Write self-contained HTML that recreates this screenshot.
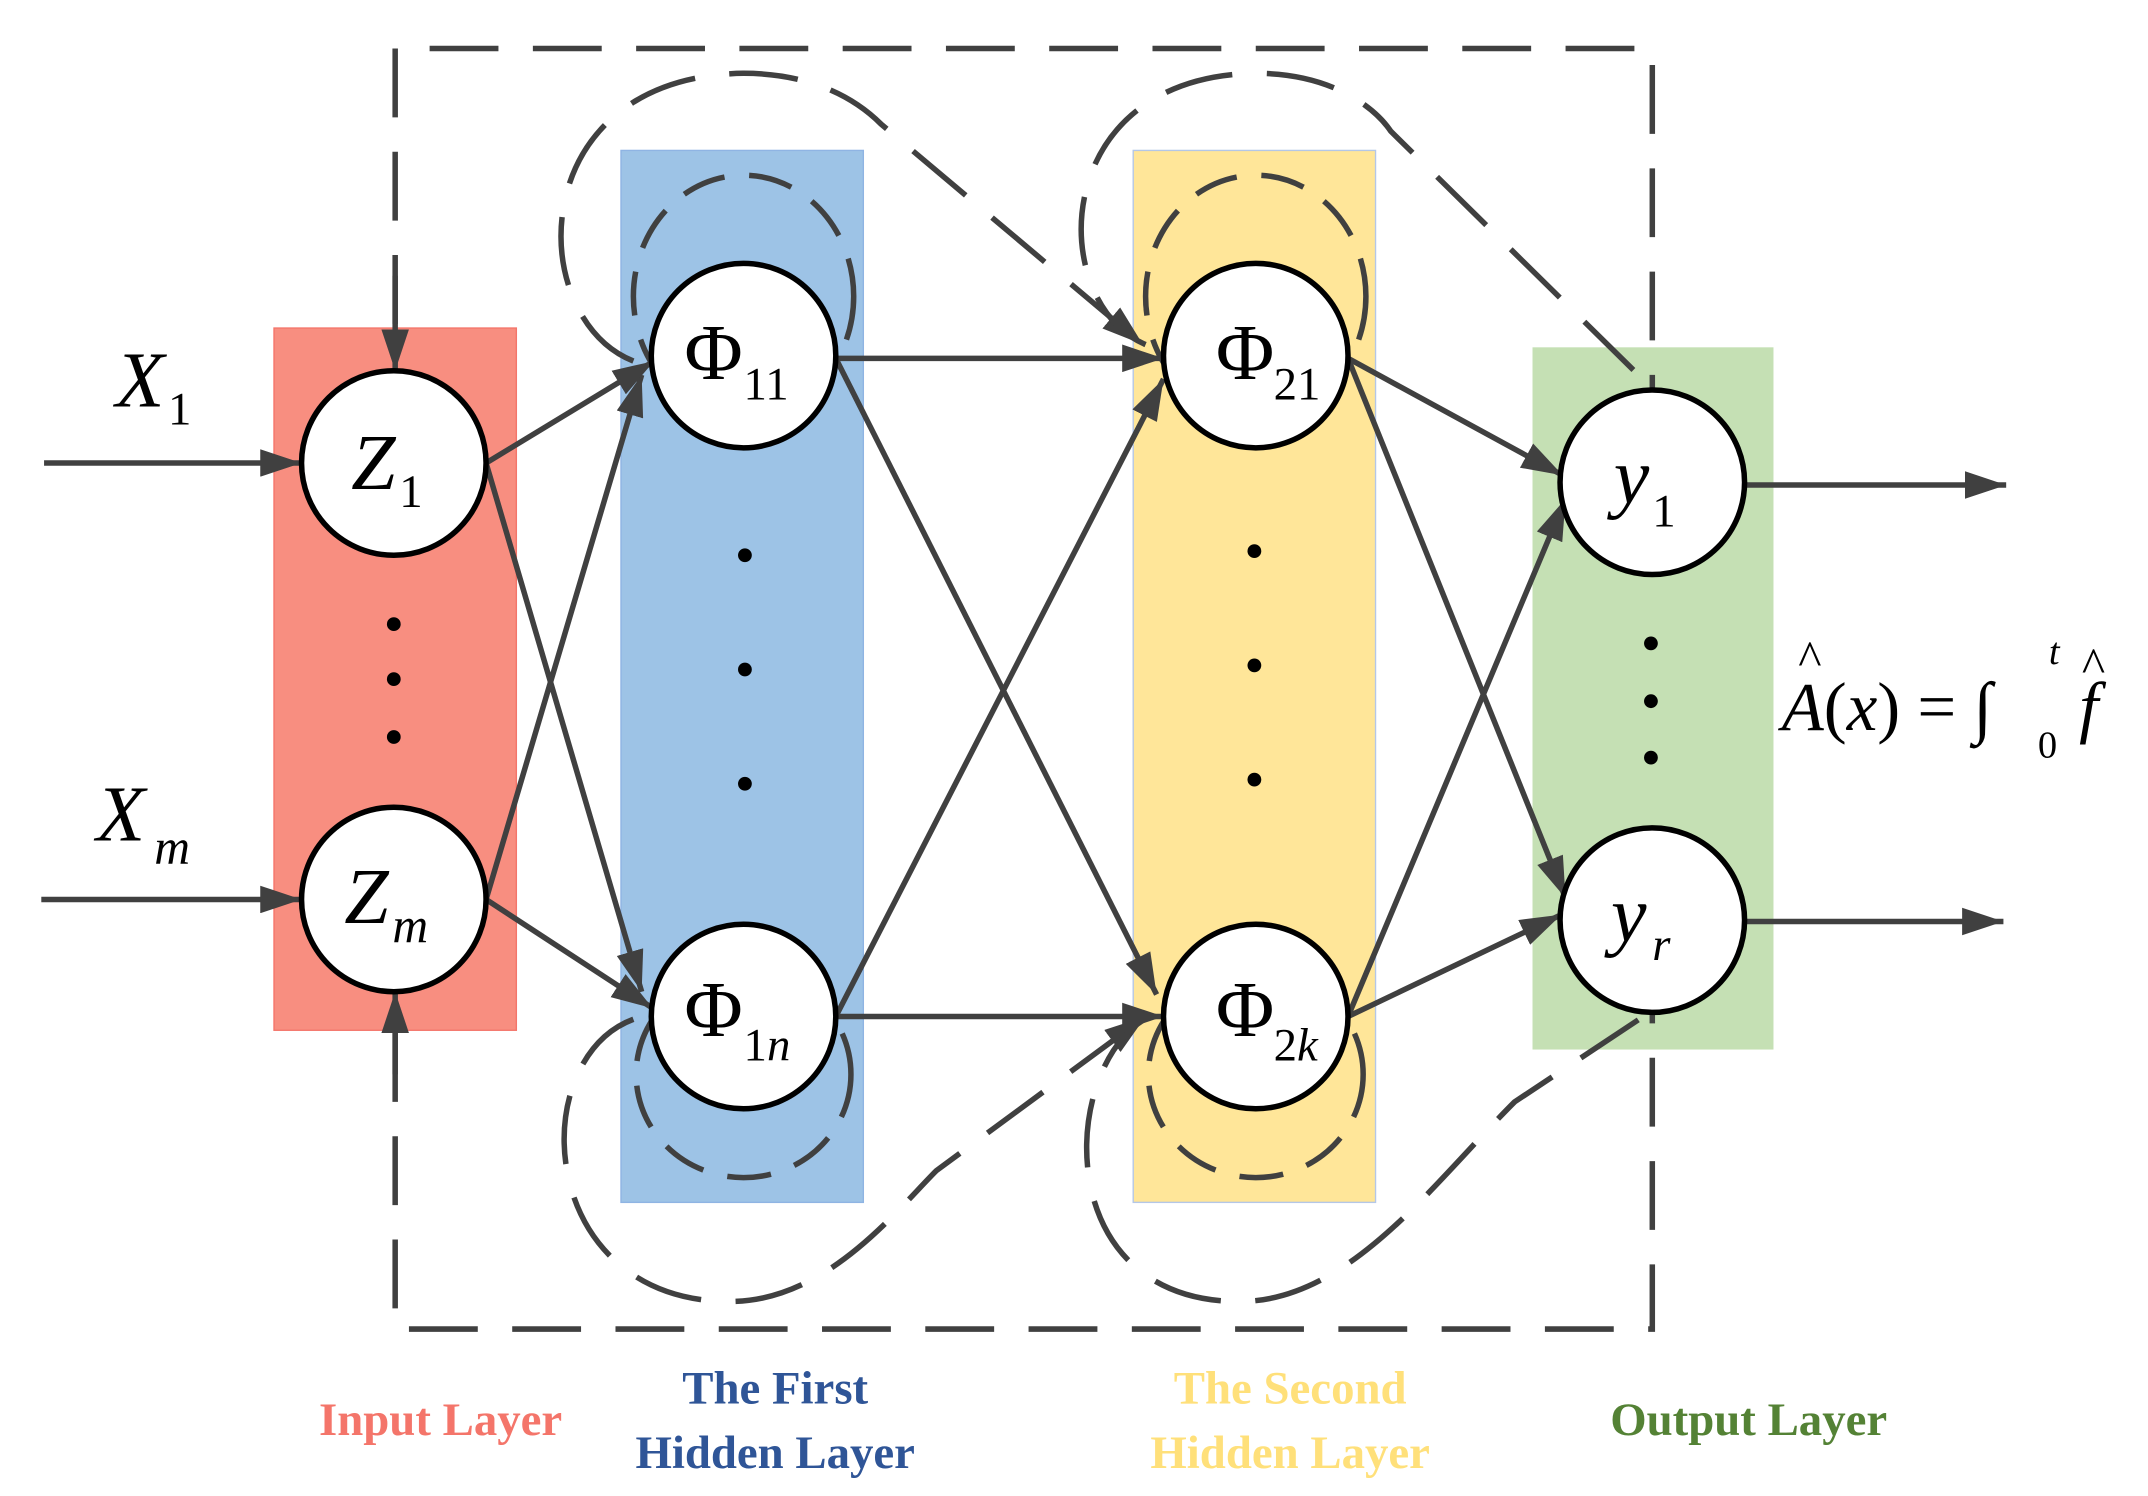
<!DOCTYPE html>
<html><head><meta charset="utf-8"><style>
html,body{margin:0;padding:0;background:#fff;}
svg{display:block;}
</style></head><body>
<svg width="2148" height="1496" viewBox="0 0 1560 1086" xmlns="http://www.w3.org/2000/svg" font-family="Liberation Serif, serif">
<defs>
<marker id="ar" viewBox="0 0 30 20" refX="30" refY="10" markerWidth="30" markerHeight="20" orient="auto" markerUnits="userSpaceOnUse">
<path d="M0,0 L30,10 L0,20 Z" fill="#404040"/>
</marker>
</defs>
<rect x="199" y="238" width="176" height="510" fill="#f88e80" stroke="#f4756a" stroke-width="1"/>
<rect x="451" y="109" width="176" height="764" fill="#9dc3e6" stroke="#8fb4e3" stroke-width="1"/>
<rect x="823" y="109" width="176" height="764" fill="#ffe699" stroke="#b4c7e7" stroke-width="1"/>
<rect x="1113" y="252" width="175" height="510" fill="#c5e0b4"/>

<g fill="none" stroke="#404040" stroke-width="4" stroke-dasharray="50,25">
<path d="M287,235 L287,35 L1200,35 L1200,283"/>
<path d="M287,750 L287,965 L1200,965 L1200,735"/>
<path d="M460,262 C380,230 380,55 540,53 C600,53 630,80 640,90 L830,250" marker-end="url(#ar)"/>
<path d="M832,250 C760,220 760,55 912,53 C970,53 1000,80 1010,95 L1198,280"/>
<path d="M460,740 C380,770 390,945 530,945 C600,945 650,880 680,850 L832,738" marker-end="url(#ar)"/>
<path d="M835,738 C770,770 760,945 900,945 C980,945 1040,860 1100,800 L1198,735"/>
</g>
<g fill="none" stroke="#404040" stroke-width="4" stroke-dasharray="32,18">
<ellipse cx="540" cy="215" rx="80" ry="88"/>
<ellipse cx="912" cy="215" rx="80" ry="88"/>
<ellipse cx="540" cy="780" rx="78" ry="75"/>
<ellipse cx="912" cy="780" rx="78" ry="75"/>
</g>

<g stroke="#404040" stroke-width="4" fill="none">
<line x1="32" y1="336" x2="219" y2="336" marker-end="url(#ar)"/>
<line x1="30" y1="653" x2="219" y2="653" marker-end="url(#ar)"/>
<line x1="287" y1="200" x2="287" y2="269" marker-end="url(#ar)"/>
<line x1="287" y1="780" x2="287" y2="720" marker-end="url(#ar)"/>
<line x1="353" y1="336" x2="475" y2="262" marker-end="url(#ar)"/>
<line x1="353" y1="336" x2="466" y2="720" marker-end="url(#ar)"/>
<line x1="353" y1="653" x2="466" y2="272" marker-end="url(#ar)"/>
<line x1="353" y1="653" x2="474" y2="732" marker-end="url(#ar)"/>
<line x1="607" y1="260" x2="845" y2="260" marker-end="url(#ar)"/>
<line x1="607" y1="260" x2="840" y2="722" marker-end="url(#ar)"/>
<line x1="607" y1="738" x2="845" y2="275" marker-end="url(#ar)"/>
<line x1="607" y1="738" x2="845" y2="738" marker-end="url(#ar)"/>
<line x1="979" y1="260" x2="1135" y2="345" marker-end="url(#ar)"/>
<line x1="979" y1="260" x2="1137" y2="652" marker-end="url(#ar)"/>
<line x1="979" y1="738" x2="1137" y2="362" marker-end="url(#ar)"/>
<line x1="979" y1="738" x2="1134" y2="664" marker-end="url(#ar)"/>
<line x1="1268" y1="352" x2="1457" y2="352" marker-end="url(#ar)"/>
<line x1="1268" y1="669" x2="1455" y2="669" marker-end="url(#ar)"/>
</g>

<g fill="#fff" stroke="#000" stroke-width="4">
<circle cx="286" cy="336" r="67"/>
<circle cx="286" cy="653" r="67"/>
<circle cx="540" cy="258" r="67"/>
<circle cx="540" cy="738" r="67"/>
<circle cx="912" cy="258" r="67"/>
<circle cx="912" cy="738" r="67"/>
<circle cx="1200" cy="350" r="67"/>
<circle cx="1200" cy="668" r="67"/>
</g>
<g fill="#000">
<circle cx="286" cy="453" r="5"/><circle cx="286" cy="493" r="5"/><circle cx="286" cy="535" r="5"/>
<circle cx="541" cy="403" r="5"/><circle cx="541" cy="486" r="5"/><circle cx="541" cy="569" r="5"/>
<circle cx="911" cy="400" r="5"/><circle cx="911" cy="483" r="5"/><circle cx="911" cy="566" r="5"/>
<circle cx="1199" cy="467" r="5"/><circle cx="1199" cy="509" r="5"/><circle cx="1199" cy="550" r="5"/>
</g>

<g font-size="58" fill="#000">
<text x="84" y="295" font-style="italic">X</text><text x="122" y="308" font-size="34">1</text>
<text x="70" y="610" font-style="italic">X</text><text x="112" y="627" font-size="36" font-style="italic">m</text>
<text x="255" y="355" font-style="italic">Z</text><text x="290" y="368" font-size="34">1</text>
<text x="250" y="670" font-style="italic">Z</text><text x="285" y="684" font-size="36" font-style="italic">m</text>
<text x="497" y="275">Φ</text><text x="540" y="290" font-size="34">11</text>
<text x="497" y="752">Φ</text><text x="540" y="770" font-size="34">1<tspan font-style="italic">n</tspan></text>
<text x="883" y="275">Φ</text><text x="925" y="290" font-size="34">21</text>
<text x="883" y="752">Φ</text><text x="925" y="770" font-size="34">2<tspan font-style="italic">k</tspan></text>
<text x="1172" y="365" font-style="italic">y</text><text x="1200" y="382" font-size="34">1</text>
<text x="1170" y="683" font-style="italic">y</text><text x="1200" y="697" font-size="34" font-style="italic">r</text>
<text x="1294" y="530" font-size="50"><tspan font-style="italic">A</tspan>(<tspan font-style="italic">x</tspan>) = ∫</text>
<text x="1306" y="490" font-size="36">^</text>
<text x="1480" y="550" font-size="28">0</text>
<text x="1488" y="482" font-size="28" font-style="italic">t</text>
<text x="1510" y="530" font-size="50" font-style="italic">f</text>
<text x="1512" y="495" font-size="36">^</text>
</g>
<g font-size="34" font-weight="bold" text-anchor="middle">
<text x="320" y="1042" fill="#f4756a">Input Layer</text>
<text x="563" y="1019" fill="#2f5597">The First</text>
<text x="563" y="1066" fill="#2f5597">Hidden Layer</text>
<text x="937" y="1019" fill="#ffe07a">The Second</text>
<text x="937" y="1066" fill="#ffe07a">Hidden Layer</text>
<text x="1270" y="1042" fill="#548235">Output Layer</text>
</g>
</svg>
</body></html>
